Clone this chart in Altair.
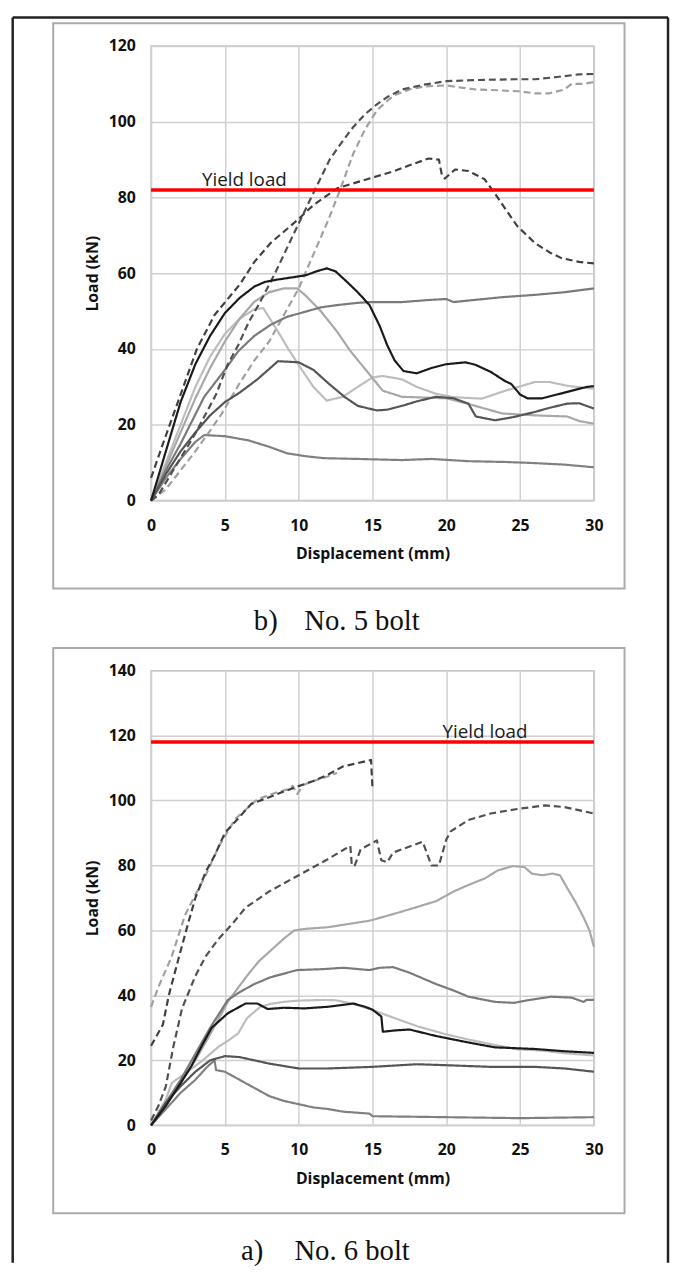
import altair as alt
import pandas as pd

# ---------------- No. 5 bolt (top panel) ----------------
b5_names = ["C", "L2", "L1", "S2", "S5", "S3", "A", "B", "S1"]
b5_colors = ["#a0a0a0", "#bdbdbd", "#a8a8a8", "#7a7a7a", "#808080", "#555555", "#505050", "#404040", "#1a1a1a"]
b5_dashed = [True, False, False, False, False, False, True, True, False]
b5_widths = [2.2, 2.2, 2.2, 2.2, 2.2, 2.2, 2.2, 2.2, 2.6]

b5_A_x = [0, 0.5, 1.5, 3, 4.4, 5.2, 5.9, 6.6, 7.4, 8.4, 9.7, 10.8, 12.1, 13, 13.7, 14.5, 15.3, 16, 17, 18.5, 20, 22, 24.6, 26, 27.5, 29, 30]
b5_A_y = [0, 1.5, 8, 17.7, 28, 36, 41, 47, 52.5, 60, 70.7, 79.6, 90, 95, 98.6, 102, 104.6, 106.5, 108.5, 109.8, 110.7, 111, 111.2, 111.2, 111.8, 112.5, 112.6]

b5_B_x = [0, 0.8, 2, 3.1, 4.3, 6, 7, 8.1, 9.9, 11, 12.6, 13.5, 15.3, 16.5, 17.5, 18.8, 19.5, 19.7, 19.9, 20.6, 21.5, 22.6, 23.3, 24, 24.8, 26, 27, 27.8, 29, 30]
b5_B_y = [6, 15, 28, 40, 49, 57, 63, 68, 74, 78, 82.4, 83.5, 85.6, 87, 88.5, 90.3, 90, 86, 85, 87.4, 87, 84.8, 81, 77, 72.5, 68, 65.5, 64, 63, 62.6]

b5_C_x = [0, 1, 2, 3, 4, 4.8, 6, 7, 8, 9, 10, 11, 12, 12.8, 13.7, 14.5, 15.3, 16, 16.5, 17.5, 18.5, 20, 21, 22, 23.5, 25, 26, 27, 28, 28.5, 29.3, 30]
b5_C_y = [0, 3, 8, 13, 18.5, 23, 31, 37, 42, 49, 56, 65, 74, 82, 91.6, 98, 103, 105.5, 107, 108.5, 109.3, 109.6, 109, 108.5, 108.3, 108, 107.5, 107.5, 108.5, 110, 110, 110.5]

b5_S1_x = [0, 1, 2, 3, 4, 5, 6, 7, 7.7, 8.5, 9.7, 10.5, 11.2, 11.9, 12.5, 13.2, 14, 14.8, 15.5, 16, 16.5, 17.1, 18, 19, 20, 21.3, 22, 23, 24, 24.4, 25, 25.5, 26.5, 27.5, 28.5, 29.5, 30]
b5_S1_y = [0, 13, 26, 36, 43.5, 49.5, 53.5, 56.5, 57.7, 58.3, 59, 59.5, 60.5, 61.3, 60.5, 58, 55, 51.6, 46, 41, 37, 34.2, 33.6, 35, 36, 36.5, 35.8, 34, 31.5, 30.8, 28, 27, 27, 28, 29, 30, 30.2]

b5_S2_x = [0, 1, 2, 3.6, 5, 5.9, 7, 8.1, 9.2, 10.4, 11.5, 12.6, 14, 14.8, 17, 19, 20, 20.5, 22, 23.8, 26, 28, 30]
b5_S2_y = [0, 8, 15, 27.4, 34.5, 39.4, 43.5, 46.4, 48.5, 49.8, 51, 51.6, 52.2, 52.4, 52.4, 53, 53.2, 52.4, 53, 53.7, 54.3, 55, 56]

b5_S3_x = [0, 1, 2, 3, 4, 5, 6, 7.2, 8.6, 10, 11, 12, 13.1, 14, 15.3, 16, 17, 18, 19.3, 20.5, 21.5, 22, 23.3, 24.5, 26, 27, 28.2, 29, 30]
b5_S3_y = [0, 7, 13, 18, 22.5, 26, 28.5, 32, 36.8, 36.5, 34.5, 31, 27.4, 25, 23.8, 24, 25, 26.2, 27.4, 27, 25.6, 22.2, 21.2, 22, 23.4, 24.5, 25.6, 25.7, 24.3]

b5_L1_x = [0, 1, 2, 3, 4, 5, 6, 7, 8, 9, 9.9, 10.5, 11.5, 12.6, 13.5, 14.4, 15.7, 17, 18.5, 20, 21.5, 23.8, 26, 28.2, 29, 30]
b5_L1_y = [0, 9, 18, 27, 35, 42, 48, 52.5, 55, 56, 56, 54, 50, 44.6, 39.5, 35.2, 29, 27.4, 27.2, 27, 25.5, 23, 22.5, 22.2, 21, 20.3]

b5_L2_x = [0, 1, 2, 3, 4, 5, 6, 7, 7.6, 8.6, 9.3, 10.1, 11, 11.9, 13, 14, 15, 15.7, 17, 18, 19.3, 20.5, 22.4, 24, 26, 27, 28.2, 30]
b5_L2_y = [0, 10, 20, 30, 38, 44, 48, 50.5, 50.8, 44.6, 40, 35.2, 30, 26.4, 27.4, 30, 32.5, 32.9, 32, 30, 28.2, 27.3, 26.9, 29, 31.3, 31.3, 30.3, 29.5]

b5_S5_x = [0, 1, 2, 3, 3.6, 5, 6.6, 8, 9.2, 10.5, 11.7, 14, 17, 19, 21.5, 24, 26, 28, 30]
b5_S5_y = [0, 6, 11, 15.5, 17.3, 17, 15.9, 14.2, 12.5, 11.7, 11.2, 11, 10.7, 11, 10.4, 10.2, 9.9, 9.5, 8.8]

b5_yield = 82

# ---------------- No. 6 bolt (bottom panel) ----------------
b6_names = ["BB", "G4", "G1", "G2", "G6", "G5", "BC", "BA", "G3"]
b6_colors = ["#a0a0a0", "#b5b5b5", "#acacac", "#888888", "#7a7a7a", "#666666", "#555555", "#3a3a3a", "#1a1a1a"]
b6_dashed = [True, False, False, False, False, False, True, True, False]
b6_widths = [2.2, 2.2, 2.2, 2.2, 2.2, 2.2, 2.2, 2.2, 2.6]

b6_BA_x = [0, 0.8, 1.2, 1.9, 2.5, 3, 3.7, 4.3, 5, 6, 6.8, 8, 9.7, 11, 12, 13, 14, 14.9, 15]
b6_BA_y = [24.5, 31, 40, 52, 62, 70, 78, 83, 90, 95, 99, 101, 104, 106, 108, 110.5, 111.5, 112.5, 104]

b6_BB_x = [0, 0.5, 1.4, 2.3, 3, 3.7, 4.6, 5.7, 7.2, 8.5, 9.3, 9.6, 9.9, 10.3, 11, 12, 12.6]
b6_BB_y = [36.5, 42.6, 52, 64.7, 71, 77, 86, 94.3, 100.4, 102.5, 103.5, 104.5, 102, 104.8, 106, 107.5, 108.5]

b6_BC_x = [0, 0.5, 1, 1.5, 2.1, 3, 3.7, 4.5, 5.5, 6.4, 8, 10.4, 12, 13.1, 13.5, 13.6, 13.8, 14.2, 15.3, 15.6, 16, 16.4, 18.4, 19, 19.5, 20, 20.3, 21.5, 23, 24.8, 26.7, 28, 30]
b6_BC_y = [1.5, 6, 12, 24, 36, 46, 52, 57, 62, 67, 72, 78, 82, 85, 86, 80, 80, 85, 87.7, 81.6, 81, 84, 87.3, 80, 80, 88, 90.5, 94, 96, 97.4, 98.5, 98, 96]

b6_G1_x = [0, 1, 2, 3, 4, 4.6, 5.2, 6, 6.6, 7.3, 8.1, 9, 9.7, 10.5, 12, 14.8, 16, 17.5, 19.3, 20.5, 21.5, 22.6, 23.5, 24.5, 25.3, 25.8, 26.5, 27.2, 27.7, 28.2, 28.8, 29.3, 29.7, 30]
b6_G1_y = [0, 6, 13, 20, 28, 33, 38, 43, 46.6, 50.5, 53.8, 57.5, 60, 60.5, 61, 63, 64.5, 66.5, 69, 72, 74, 76, 78.5, 79.8, 79.5, 77.5, 77, 77.5, 77, 73, 68.4, 64, 60, 55]

b6_G2_x = [0, 1, 2, 3, 4, 5.2, 6, 7, 8.1, 9.9, 11.7, 13, 14.8, 15.5, 16.4, 17.5, 19.3, 20.5, 21.5, 23.3, 24.6, 25.5, 27.1, 28.5, 29.3, 29.5, 30]
b6_G2_y = [0, 7, 14, 22, 30, 38.6, 41, 43.5, 45.6, 47.8, 48.1, 48.5, 47.8, 48.5, 48.7, 47, 43.5, 41.5, 39.6, 38, 37.7, 38.5, 39.6, 39.3, 38, 38.6, 38.6]

b6_G3_x = [0, 1, 2, 2.7, 3.5, 4.1, 5.2, 6.4, 7.2, 7.9, 9, 10.4, 12, 13.7, 14.5, 15, 15.6, 15.7, 16.5, 17.5, 19.3, 21.5, 23.3, 26, 28, 30]
b6_G3_y = [0, 6, 13, 18, 25, 30, 34.5, 37.5, 37.5, 35.8, 36.2, 36, 36.5, 37.5, 36.5, 35.6, 33.5, 28.8, 29.2, 29.5, 27.5, 25.5, 24, 23.5, 22.8, 22.3]

b6_G4_x = [0, 1, 1.4, 2, 3, 3.5, 4.6, 5.2, 5.9, 6.5, 7.4, 8.1, 9, 10, 11.7, 12.5, 13.7, 15, 16.5, 18.1, 20, 21.5, 23, 24.8, 26.5, 28, 30]
b6_G4_y = [0, 8, 13, 15, 18.3, 20, 24.3, 26, 28.3, 33, 36.5, 37.4, 38, 38.4, 38.6, 38.5, 37.4, 35.5, 33, 30.4, 28, 26.4, 25, 23.4, 23, 22.2, 21.5]

b6_G5_x = [0, 1, 2, 3, 4, 5, 6, 8, 10, 12, 15, 18, 20, 23, 26, 28, 30]
b6_G5_y = [0, 7, 12, 16.5, 20, 21.3, 21, 19, 17.5, 17.5, 18, 18.8, 18.5, 18, 18, 17.5, 16.5]

b6_G6_x = [0, 1, 2, 3, 3.8, 4.3, 4.4, 5, 6, 7, 8, 9, 10, 11, 12, 13, 14.8, 15, 20, 25, 30]
b6_G6_y = [0, 5, 10, 14, 18, 20, 17, 16.5, 14, 11.5, 9, 7.5, 6.5, 5.5, 5, 4.2, 3.6, 2.8, 2.5, 2.2, 2.5]

b6_yield = 118

x_ticks = [0, 5, 10, 15, 20, 25, 30]

PLOT_W, PLOT_H = 448, 460
FONT = "Open Sans"


def build_df(pairs):
    rows = []
    for name, xs, ys in pairs:
        for i, (xv, yv) in enumerate(zip(xs, ys)):
            rows.append({"series": name, "i": i, "x": xv, "y": yv})
    return pd.DataFrame(rows)


def panel(df, names, colors, dashed, widths, ymax, yield_val, yield_x,
          cap_a, cap_b, cap_a_x, cap_b_x, cap_y, border=False):
    xenc = alt.X("x:Q", scale=alt.Scale(domain=[0, 30], nice=False),
                 axis=alt.Axis(values=x_ticks, title="Displacement (mm)",
                               labelPadding=17, titlePadding=13, labelFlush=False))
    yenc = alt.Y("y:Q", scale=alt.Scale(domain=[0, ymax], nice=False),
                 axis=alt.Axis(values=list(range(0, ymax + 1, 20)), title="Load (kN)",
                               labelPadding=16, titlePadding=8))
    dashes = [[7, 4] if d else [1, 0] for d in dashed]
    lines = alt.Chart(df).mark_line(strokeJoin="round").encode(
        x=xenc, y=yenc,
        color=alt.Color("series:N", scale=alt.Scale(domain=names, range=colors), legend=None),
        strokeDash=alt.StrokeDash("series:N", scale=alt.Scale(domain=names, range=dashes), legend=None),
        strokeWidth=alt.StrokeWidth("series:N", scale=alt.Scale(domain=names, range=widths), legend=None),
        order=alt.Order("i:Q"),
    )
    ydf = pd.DataFrame({"x": [yield_x], "y": [yield_val], "t": ["Yield load"]})
    rule = alt.Chart(ydf).mark_rule(color="#ff0000", strokeWidth=3.5).encode(y=yenc)
    label = alt.Chart(ydf).mark_text(align="left", baseline="alphabetic", dy=-4,
                                     font=FONT, fontSize=19, color="#1a1a1a").encode(
        x=xenc, y=yenc, text="t:N")
    one = pd.DataFrame({"k": [0]})
    frame = alt.Chart(one).mark_rect(fillOpacity=0, stroke="#aaaaaa", strokeWidth=2).encode(
        x=alt.value(-99), x2=alt.value(479), y=alt.value(-23), y2=alt.value(549))
    capa = alt.Chart(one).mark_text(align="left", baseline="middle", font="Liberation Serif",
                                    fontSize=29, color="#111").encode(
        x=alt.value(cap_a_x), y=alt.value(cap_y), text=alt.value(cap_a))
    capb = alt.Chart(one).mark_text(align="left", baseline="middle", font="Liberation Serif",
                                    fontSize=29, color="#111").encode(
        x=alt.value(cap_b_x), y=alt.value(cap_y), text=alt.value(cap_b))
    layers = [frame, lines, rule, label, capa, capb]
    if border:
        bl = alt.Chart(one).mark_rule(color="#222222", strokeWidth=2.5).encode(
            x=alt.value(-140), y=alt.value(-28.75), y2=alt.value(1231))
        br = alt.Chart(one).mark_rule(color="#222222", strokeWidth=2.5).encode(
            x=alt.value(523), y=alt.value(-28.75), y2=alt.value(1231))
        bt = alt.Chart(one).mark_rule(color="#222222", strokeWidth=2.5).encode(
            x=alt.value(-140), x2=alt.value(523), y=alt.value(-28.75))
        layers += [bl, br, bt]
    return alt.layer(*layers).properties(width=PLOT_W, height=PLOT_H)


df5 = build_df([
    ("C", b5_C_x, b5_C_y), ("L2", b5_L2_x, b5_L2_y), ("L1", b5_L1_x, b5_L1_y),
    ("S2", b5_S2_x, b5_S2_y), ("S5", b5_S5_x, b5_S5_y), ("S3", b5_S3_x, b5_S3_y),
    ("A", b5_A_x, b5_A_y), ("B", b5_B_x, b5_B_y), ("S1", b5_S1_x, b5_S1_y),
])
df6 = build_df([
    ("BB", b6_BB_x, b6_BB_y), ("G4", b6_G4_x, b6_G4_y), ("G1", b6_G1_x, b6_G1_y),
    ("G2", b6_G2_x, b6_G2_y), ("G6", b6_G6_x, b6_G6_y), ("G5", b6_G5_x, b6_G5_y),
    ("BC", b6_BC_x, b6_BC_y), ("BA", b6_BA_x, b6_BA_y), ("G3", b6_G3_x, b6_G3_y),
])

top = panel(df5, b5_names, b5_colors, b5_dashed, b5_widths, 120, b5_yield, 3.45,
            "b)", "No. 5 bolt", 104, 155, 582, border=True)
bottom = panel(df6, b6_names, b6_colors, b6_dashed, b6_widths, 140, b6_yield, 19.75,
               "a)", "No. 6 bolt", 91, 145, 587)

chart = alt.vconcat(top, bottom, spacing=172, bounds="flush").properties(
    padding={"left": 2.75, "top": 0, "right": 0, "bottom": -5},
    background="white",
).configure_view(
    stroke="#c0c0c0", strokeWidth=1.5
).configure_axis(
    grid=True, gridColor="#d0d0d0", gridWidth=1.5, domain=False, ticks=False, tickSize=0,
    labelFont=FONT, labelFontWeight="bold", labelFontSize=16, labelColor="#111111",
    titleFont=FONT, titleFontWeight="bold", titleFontSize=16, titleColor="#111111",
)

chart.save("out.html", embed_options={"renderer": "svg", "actions": False})
